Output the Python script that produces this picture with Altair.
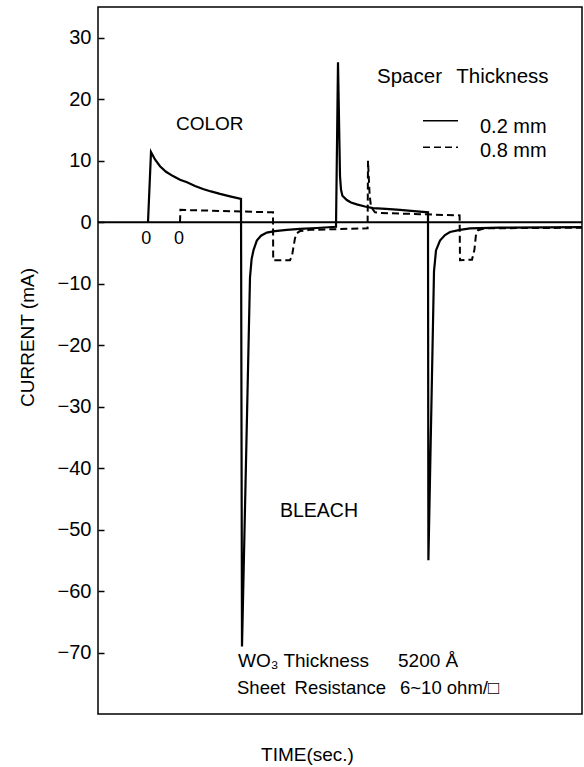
import altair as alt
import pandas as pd

# ---- data (time in arbitrary units, current in mA) ----
solid_time = [12.5, 13.25, 14.25, 15.5, 17.0, 18.75, 20.5, 22.25, 24.25, 26.25, 28.25,
              30.5, 33.0, 35.75, 36.0, 38.0, 38.4, 38.9, 39.7, 40.75, 42.2, 44.25, 47.2,
              50.5, 54.7, 59.5, 60.0, 60.5, 60.75, 61.1, 62.2, 63.25, 64.7, 66.75, 68.75,
              72.0, 75.5, 79.0, 82.5, 82.6, 84.0, 84.5, 85.5, 86.75, 88.0, 90.5, 93.0,
              100.5, 121.0]
solid_current = [0.0, 11.4, 10.2, 9.1, 8.2, 7.5, 6.9, 6.5, 5.9, 5.4, 5.0,
                 4.6, 4.2, 3.8, -69.0, -9.0, -6.0, -4.5, -3.0, -2.2, -1.7, -1.45, -1.25,
                 -1.1, -0.95, -0.75, 26.0, 7.5, 5.3, 4.3, 3.6, 3.2, 2.9, 2.55, 2.3,
                 2.15, 2.0, 1.8, 1.6, -55.0, -8.0, -4.6, -3.0, -2.1, -1.6, -1.25, -1.0,
                 -0.9, -0.8]

dashed_time = [20.5, 20.6, 43.75, 43.8, 48.0, 48.5, 48.8, 49.25, 49.7, 50.5, 53.0, 67.4,
               67.5, 67.9, 68.25, 69.25, 70.5, 80.5, 90.4, 90.5, 93.5, 94.1, 94.5, 95.0,
               96.75, 121.0]
dashed_current = [0.0, 2.0, 1.6, -6.2, -6.2, -5.5, -4.3, -2.6, -1.8, -1.45, -1.25, -1.0,
                  10.0, 4.5, 2.5, 1.6, 1.5, 1.3, 1.1, -6.2, -6.1, -4.5, -2.0, -1.3,
                  -1.0, -0.9]

y_ticks = [30, 20, 10, 0, -10, -20, -30, -40, -50, -60, -70]

note_text = ["COLOR", "0", "0", "Spacer\u2002\u2009Thickness", "0.2 mm", "0.8 mm", "BLEACH",
             "WO\u2083 Thickness", "5200 \u00c5", "Sheet\u2002Resistance", "6~10 ohm/\u25a1"]
note_time = [19.5, 10.8, 19.0, 69.75, 95.5, 95.5, 45.5, 35.0, 75.0, 34.75, 75.5]
note_current = [15.9, -2.7, -2.7, 23.6, 15.5, 11.6, -47.0, -71.3, -71.3, -75.7, -75.7]
note_size = [19, 18, 18, 20.5, 20, 20, 19.5, 19, 19, 18.5, 18.5]

legend_series = ["0.2 mm", "0.8 mm"]
legend_start = [81.25, 81.25]
legend_end = [90.0, 90.0]
legend_current = [16.5, 12.2]

FONT = "Liberation Sans"

solid_df = pd.DataFrame({"time": solid_time, "current": solid_current,
                         "order": list(range(len(solid_time)))})
dashed_df = pd.DataFrame({"time": dashed_time, "current": dashed_current,
                          "order": list(range(len(dashed_time)))})
notes_df = pd.DataFrame({"time": note_time, "current": note_current, "label": note_text,
                         "fs": note_size})
legend_df = pd.DataFrame({"series": legend_series, "start": legend_start,
                          "end": legend_end, "current": legend_current})
zero_df = pd.DataFrame({"start": [0.0], "end": [121.0], "current": [0.0]})

x_scale = alt.Scale(domain=[0, 121], nice=False, zero=False)
y_scale = alt.Scale(domain=[-80, 35], nice=False, zero=False)

x_axis = alt.Axis(title="TIME(sec.)", labels=False, ticks=False, domain=False, grid=False,
                  titleFont=FONT, titleFontSize=19, titleFontWeight="normal",
                  titleColor="black", titleX=209, titleY=46, titleAlign="center",
                  titleBaseline="alphabetic")
y_axis = alt.Axis(title="CURRENT (mA)", values=y_ticks, grid=False, domain=False,
                  ticks=True, tickSize=6, tickWidth=1.5, tickColor="black", offset=-6,
                  labelPadding=7, labelFont=FONT, labelFontSize=20, labelColor="black",
                  titleFont=FONT, titleFontSize=19, titleFontWeight="normal",
                  titleColor="black", titleAngle=270, titleX=-71, titleY=330,
                  titleAlign="center", titleBaseline="alphabetic")

zero = alt.Chart(zero_df).mark_rule(color="black", strokeWidth=2).encode(
    x=alt.X("start:Q", scale=x_scale, axis=x_axis),
    x2="end:Q",
    y=alt.Y("current:Q", scale=y_scale, axis=y_axis),
)

solid = alt.Chart(solid_df).mark_line(color="black", strokeWidth=2.2).encode(
    x=alt.X("time:Q", scale=x_scale),
    y=alt.Y("current:Q", scale=y_scale),
    order="order:Q",
)

dashed = alt.Chart(dashed_df).mark_line(color="black", strokeWidth=2,
                                         strokeDash=[7, 4]).encode(
    x=alt.X("time:Q", scale=x_scale),
    y=alt.Y("current:Q", scale=y_scale),
    order="order:Q",
)

legend_lines = alt.Chart(legend_df).mark_rule(color="black", strokeWidth=1.5).encode(
    x=alt.X("start:Q", scale=x_scale),
    x2="end:Q",
    y=alt.Y("current:Q", scale=y_scale),
    strokeDash=alt.StrokeDash("series:N",
                              scale=alt.Scale(domain=legend_series, range=[[1, 0], [7, 4]]),
                              legend=None),
)

notes = alt.Chart(notes_df).mark_text(align="left", baseline="middle", font=FONT,
                                      color="black").encode(
    x=alt.X("time:Q", scale=x_scale),
    y=alt.Y("current:Q", scale=y_scale),
    text="label:N",
    size=alt.Size("fs:Q", scale=None, legend=None),
)

chart = alt.layer(zero, solid, dashed, legend_lines, notes).properties(
    width=484,
    height=707,
    padding={"left": 98, "top": 7, "right": 2, "bottom": 53},
    autosize=alt.AutoSizeParams(type="none"),
    background="white",
).configure_view(stroke="black", strokeWidth=1.5)

chart.save("out.html", embed_options={"renderer": "svg", "actions": False})
